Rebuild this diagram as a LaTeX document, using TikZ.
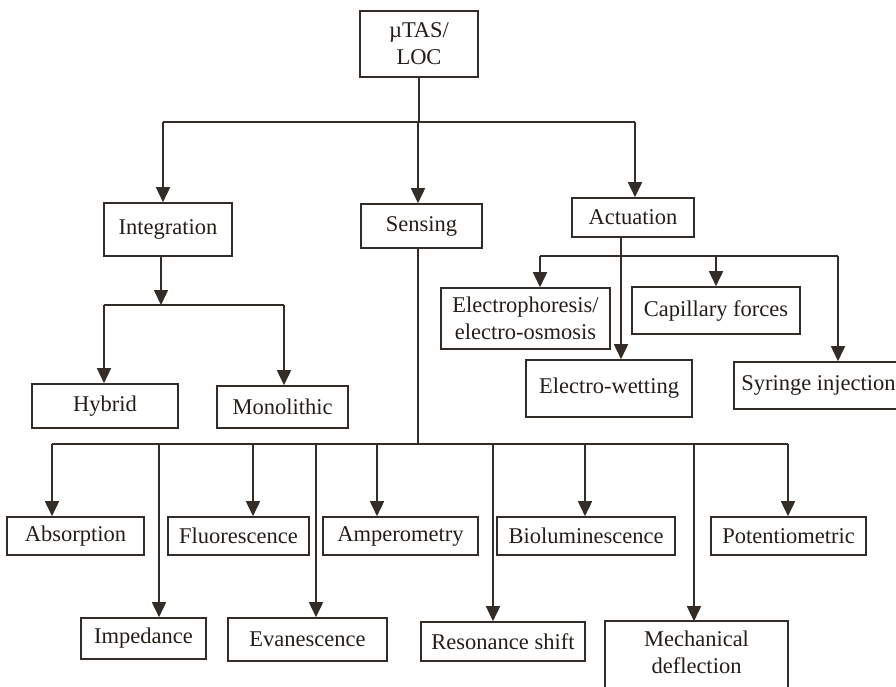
\documentclass[tikz,border=0pt]{standalone}
\usepackage{fontspec}
\setmainfont{Liberation Serif}
\usetikzlibrary{arrows.meta,calc}
\definecolor{ink}{RGB}{52,45,39}
\definecolor{txt}{RGB}{36,30,24}
\begin{document}
\begin{tikzpicture}[x=1pt,y=-1pt,
  box/.style={draw=ink, line width=1.6pt, inner sep=0pt, align=center, text=txt,
              font=\fontsize{22.5}{27}\selectfont},
  conn/.style={draw=ink, line width=1.6pt},
  arr/.style={conn, -{Triangle[width=14pt,length=15pt]}}]
\path[use as bounding box] (0,0) rectangle (896,686);
\clip (0,0) rectangle (896,686);

% top level
\node[box, minimum width=118, minimum height=66] (root) at (419,44) {µTAS/\\LOC};
\node[box, minimum width=128, minimum height=53] (integ) at (168,229.5) {Integration};
\node[box, minimum width=121, minimum height=44] (sens) at (421.5,226) {Sensing};
\node[box, minimum width=122, minimum height=39] (act) at (633,217.5) {Actuation};

% actuation branch
\node[box, minimum width=169, minimum height=61] (ephor) at (525.5,318.5) {Electrophoresis/\\electro-osmosis};
\node[box, minimum width=168, minimum height=47] (capil) at (716,310.5) {Capillary forces};
\node[box, minimum width=166, minimum height=57] (ewet) at (609,388.5) {Electro-wetting};
\node[box, minimum width=169, minimum height=47] (syr) at (818.5,385.5) {Syringe injection};

% integration branch
\node[box, minimum width=146, minimum height=44] (hyb) at (105,406) {Hybrid};
\node[box, minimum width=131, minimum height=42] (mono) at (282.5,407) {Monolithic};

% sensing branch, upper row
\node[box, minimum width=137, minimum height=38] (absorp) at (75.5,536) {Absorption};
\node[box, minimum width=141, minimum height=38] (fluor) at (238.5,536) {Fluorescence};
\node[box, minimum width=155, minimum height=38] (amper) at (400.5,536) {Amperometry};
\node[box, minimum width=178, minimum height=38] (biolum) at (586,536) {Bioluminescence};
\node[box, minimum width=155, minimum height=38] (potent) at (788.5,536) {Potentiometric};

% sensing branch, lower row
\node[box, minimum width=125, minimum height=41] (imped) at (143.5,638.5) {Impedance};
\node[box, minimum width=159, minimum height=43] (evan) at (307.5,639.5) {Evanescence};
\node[box, minimum width=164, minimum height=39] (reson) at (503,641.5) {Resonance shift};
\node[box, draw=none, minimum width=181, minimum height=60] (mech) at (696.5,652) {Mechanical\\deflection};
\draw[conn] ([yshift=-30pt]mech.south west) -- (mech.north west) -- (mech.north east) -- ([yshift=-30pt]mech.south east);

% bus levels
\coordinate (busT) at (0,122);
\coordinate (busA) at (0,256);
\coordinate (busI) at (0,305);
\coordinate (busS) at (0,444);

% root to first level
\draw[conn] (root.south) -- (root.south |- busT);
\draw[conn] ([xshift=-5pt]integ.north |- busT) -- ([xshift=2pt]act.north |- busT);
\draw[arr] ([xshift=-5pt]integ.north |- busT) -- ([xshift=-5pt]integ.north);
\draw[arr] ([xshift=-3.5pt]sens.north |- busT) -- ([xshift=-3.5pt]sens.north);
\draw[arr] ([xshift=2pt]act.north |- busT) -- ([xshift=2pt]act.north);

% integration
\draw[arr] ([xshift=-7pt]integ.south) -- ([xshift=-7pt]integ.south |- busI);
\draw[conn] ([xshift=-1pt]hyb.north |- busI) -- ([xshift=1.5pt]mono.north |- busI);
\draw[arr] ([xshift=-1pt]hyb.north |- busI) -- ([xshift=-1pt]hyb.north);
\draw[arr] ([xshift=1.5pt]mono.north |- busI) -- ([xshift=1.5pt]mono.north);

% actuation
\draw[arr] ([xshift=-12pt]act.south) -- ([xshift=12pt]ewet.north);
\draw[conn] ([xshift=14.5pt]ephor.north |- busA) -- ([xshift=19.5pt]syr.north |- busA);
\draw[arr] ([xshift=14.5pt]ephor.north |- busA) -- ([xshift=14.5pt]ephor.north);
\draw[arr] (capil.north |- busA) -- (capil.north);
\draw[arr] ([xshift=19.5pt]syr.north |- busA) -- ([xshift=19.5pt]syr.north);

% sensing
\draw[conn] ([xshift=-3.5pt]sens.south) -- ([xshift=-3.5pt]sens.south |- busS);
\draw[conn] ([xshift=-23.5pt]absorp.north |- busS) -- ([xshift=-0.5pt]potent.north |- busS);
\draw[arr] ([xshift=-23.5pt]absorp.north |- busS) -- ([xshift=-23.5pt]absorp.north);
\draw[arr] ([xshift=15.5pt]imped.north |- busS) -- ([xshift=15.5pt]imped.north);
\draw[arr] ([xshift=14.5pt]fluor.north |- busS) -- ([xshift=14.5pt]fluor.north);
\draw[arr] ([xshift=8.5pt]evan.north |- busS) -- ([xshift=8.5pt]evan.north);
\draw[arr] ([xshift=-23.5pt]amper.north |- busS) -- ([xshift=-23.5pt]amper.north);
\draw[arr] ([xshift=-10pt]reson.north |- busS) -- ([xshift=-10pt]reson.north);
\draw[arr] ([xshift=-1pt]biolum.north |- busS) -- ([xshift=-1pt]biolum.north);
\draw[arr] ([xshift=-2.5pt]mech.north |- busS) -- ([xshift=-2.5pt]mech.north);
\draw[arr] ([xshift=-0.5pt]potent.north |- busS) -- ([xshift=-0.5pt]potent.north);
\end{tikzpicture}
\end{document}
